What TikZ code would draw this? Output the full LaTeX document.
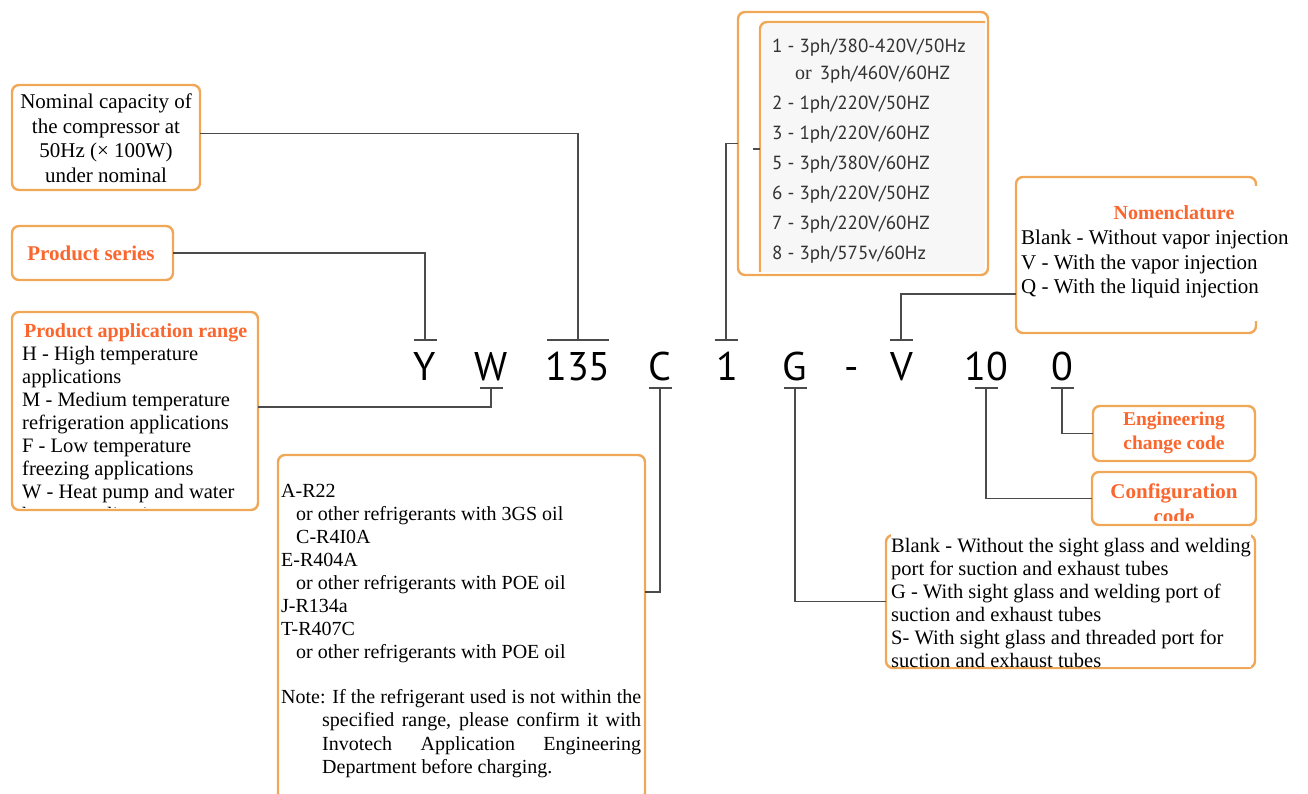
\documentclass[tikz,border=0pt]{standalone}
\usepackage{fontspec}
\setmainfont{Liberation Serif}
\newfontfamily\codefont{PT Sans}
\usetikzlibrary{calc}
\definecolor{invorange}{RGB}{240,168,88}
\definecolor{invtitle}{RGB}{250,102,45}
\definecolor{invline}{RGB}{75,75,75}
\definecolor{invtext}{RGB}{50,50,50}

\begin{document}
\begin{tikzpicture}[x=1pt,y=-1pt,
  obox/.style={draw=invorange,line width=2.4pt,rounded corners=7pt,inner sep=0pt,outer sep=0pt,fill=white},
  oline/.style={draw=invorange,line width=2.4pt,rounded corners=7pt},
  conn/.style={draw=invline,line width=1.6pt},
  body/.style={font=\fontsize{20.5}{23.5}\selectfont,inner sep=0pt,align=left},
  ttl/.style={font=\fontsize{20}{24}\selectfont\bfseries,text=invtitle,inner sep=0pt},
  codechar/.style={font=\codefont\fontsize{40}{40}\selectfont,anchor=base,inner sep=0pt,text=black},
  volt/.style={font=\codefont\fontsize{19}{30}\selectfont,text=invtext,inner sep=0pt,align=left}]
\useasboundingbox (0,0) rectangle (1308,794);

% boxes (pixel coordinates, y downward)
\node[obox,minimum width=188,minimum height=105] (nominal) at (106,137.5) {};
\node[obox,minimum width=161,minimum height=54] (series) at (92.5,253) {};
\node[obox,minimum width=246,minimum height=198] (apprange) at (135,411) {};
\node[obox,minimum width=250,minimum height=263] (volt) at (863,143.5) {};
\node[obox,minimum width=240,minimum height=156] (nomen) at (1136,255) {};
\node[obox,minimum width=367,minimum height=345] (refr) at (461.5,627.5) {};
\node[obox,minimum width=369,minimum height=133] (sight) at (1070.5,601.5) {};
\node[obox,minimum width=162,minimum height=55] (eng) at (1174,433.5) {};
\node[obox,minimum width=164,minimum height=53] (config) at (1174,498.5) {};

% inner frame of the supply box
\fill[black!3] (762,24) rectangle (985,272);
\draw[oline] (760,272) -- (760,22) -- (985,22);

% nominal capacity
\node[body,align=center,font=\fontsize{21}{24.5}\selectfont] (nominalTxt) at (106,138)
  {Nominal capacity of\\the compressor at\\50Hz (\texttimes{} 100W)\\under nominal};

% product series
\node[ttl,anchor=base,font=\fontsize{21}{24}\selectfont\bfseries] (seriesTxt) at (91,261) {Product series};

% application range
\node[ttl,anchor=base west] (appTtl) at (24,337) {Product application range};
\begin{scope}
  \clip (13,313) rectangle (257,507);
  \node[body,anchor=north west,font=\fontsize{20.5}{23}\selectfont] (appTxt) at (22,346)
    {H - High temperature\\applications\\M - Medium temperature\\refrigeration applications\\
     F - Low temperature\\freezing applications\\W - Heat pump and water\\heater applications};
\end{scope}

% supply codes
\node[volt,anchor=north west] (voltTxt) at (772,39)
  {1 - 3ph/380-420V/50Hz\\[-3pt]
   \hspace*{23pt}{\rmfamily\fontsize{20}{30}\selectfont or}\hspace{8pt}3ph/460V/60HZ\\
   2 - 1ph/220V/50HZ\\3 - 1ph/220V/60HZ\\5 - 3ph/380V/60HZ\\
   6 - 3ph/220V/50HZ\\7 - 3ph/220V/60HZ\\8 - 3ph/575v/60Hz};
\coordinate (voltStub) at (760,149);
\draw[conn,line width=1.2pt] (voltStub) -- ++(-7,0);

% nomenclature
\fill[white] (1018,186) rectangle (1300,321);
\node[ttl,anchor=base] (nomenTtl) at (1174,220) {Nomenclature};
\node[body,anchor=north west,font=\fontsize{21}{24.5}\selectfont] (nomenTxt) at (1021,230)
  {Blank - Without vapor injection\\V - With the vapor injection\\Q - With the liquid injection};

% refrigerants
\node[body,anchor=north west,font=\fontsize{20}{23}\selectfont] (refrTxt) at (281,484)
  {A-R22\\\hspace*{15pt}or other refrigerants with 3GS oil\\\hspace*{15pt}C-R4I0A\\
   E-R404A\\\hspace*{15pt}or other refrigerants with POE oil\\J-R134a\\T-R407C\\
   \hspace*{15pt}or other refrigerants with POE oil};
\node[inner sep=0pt,anchor=north west,font=\fontsize{20}{23.5}\selectfont] (noteTxt) at (281,689)
  {\parbox[t]{360pt}{\hangindent=41pt\hangafter=1 Note: If the refrigerant used is not within the\linebreak
   specified range, please confirm it with\linebreak
   Invotech Application Engineering\linebreak
   Department before charging.}};

% sight glass
\node[body,anchor=north west,fill=white,font=\fontsize{20.5}{23}\selectfont] (sightTxt) at (891,533)
  {\rule{0pt}{19pt}Blank - Without the sight glass and welding\\port for suction and exhaust tubes\\
   G - With sight glass and welding port of\\suction and exhaust tubes\\
   S- With sight glass and threaded port for\\suction and exhaust tubes};

% engineering / configuration
\node[ttl,align=center,font=\fontsize{19.5}{24}\selectfont\bfseries] (engTxt) at (1174,433) {Engineering\\change code};
\begin{scope}
  \clip (1093,473) rectangle (1255,520);
  \node[ttl,anchor=north,align=center,font=\fontsize{21}{25}\selectfont\bfseries] (configTxt) at (1174,484) {Configuration\\code};
\end{scope}

% model code
\foreach \x/\t/\n in {425/Y/cY,491/W/cW,578/135/cNum,660/C/cC,727/1/cOne,795/G/cG,852/-/cDash,902/V/cV,986/10/cTen,1062/0/cZero}
  \node[codechar] (\n) at (\x,380) {\t};

% tick points
\coordinate (tY) at (425,340);
\coordinate (tNum) at (578,340);
\coordinate (tOne) at (726,340);
\coordinate (tV) at (901,340);
\coordinate (tW) at (491,388);
\coordinate (tC) at (660,388);
\coordinate (tG) at (795,388);
\coordinate (tTen) at (986,388);
\coordinate (tZero) at (1062,388);
\foreach \c in {tY,tOne,tV,tW,tC,tG,tTen,tZero}
  \draw[conn] ([xshift=-11.5pt]\c) -- ([xshift=11.5pt]\c);
\draw[conn] ([xshift=-31pt]tNum) -- ([xshift=31pt]tNum);

% connectors
\coordinate (wJoin) at (491,407);
\coordinate (cJoin) at (660,592);
\coordinate (vJoin) at (901,294);
\draw[conn] (tY) |- (series.east);
\draw[conn] (tNum) |- ([yshift=4pt]nominal.east);
\draw[conn] (tOne) |- (volt.west);
\draw[conn] (tV) -- (vJoin) -- (nomen.west |- vJoin);
\draw[conn] (tW) -- (wJoin) -- (apprange.east |- wJoin);
\draw[conn] (tC) -- (cJoin) -- (refr.east |- cJoin);
\draw[conn] (tG) |- (sight.west);
\draw[conn] (tTen) |- (config.west);
\draw[conn] (tZero) |- (eng.west);
\end{tikzpicture}
\end{document}
